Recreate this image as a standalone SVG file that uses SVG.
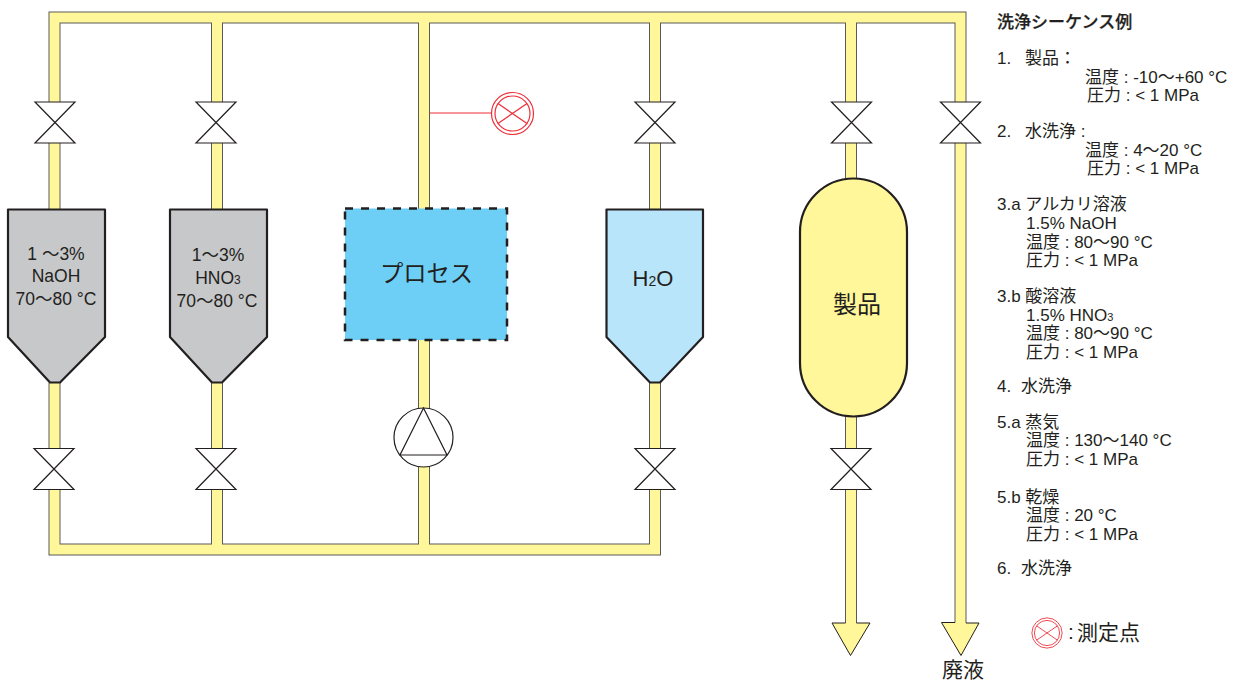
<svg xmlns="http://www.w3.org/2000/svg" width="1237" height="682" viewBox="0 0 1237 682">
<style>
text{font-family:"Liberation Sans","Noto Sans CJK JP",sans-serif;fill:#231f20}
.l{font-size:17px}
.t{font-size:17.500px;text-anchor:middle}
.po{fill:none;stroke:#5a5a58;stroke-width:12;stroke-linejoin:miter}
.pi{fill:none;stroke:#fff799;stroke-width:10;stroke-linejoin:miter}
.v{fill:#fff;stroke:#231f20;stroke-width:1.2;stroke-linejoin:miter}
.tank{stroke:#231f20;stroke-width:2.2;stroke-linejoin:round}
.g{fill:#fff;stroke:#ed2e38;stroke-width:1.2}
.ga{fill:#fff799;stroke:#231f20;stroke-width:1}
</style>
<defs>
<g id="valve"><rect x="-8" y="-20" width="16" height="40" fill="#fff"/><path class="v" d="M-20 -20.500H20L-20 20.500H20Z"/></g>
<g id="gauge"><circle class="g" r="21"/><circle class="g" r="17.500"/><path class="g" d="M-14.500 -10L14.500 10M14.500 -10L-14.500 10"/></g>
</defs>
<g id="connectors">
<path class="po" d="M54.500 209V17.500H960.500V623.500M217 209V17.500M424 209V17.500M655 209V17.500M851 180V17.500M851 415V623.500M54.500 383V549.500H655V383M217 383V549.500M424 340V549.500"/>
<path class="pi" d="M54.500 209V17.500H960.500V625M217 209V17.500M424 209V17.500M655 209V17.500M851 180V17.500M851 415V625M54.500 383V549.500H655V383M217 383V549.500M424 340V549.500"/>
<path d="M430 113H492" fill="none" stroke="#ed2e38" stroke-width="1.200"/>
<path class="ga" d="M845.500 623H832L850.500 655.500L870 623H856.500"/>
<path class="ga" d="M955 622.500H941.500L961 655.500L979 623H966"/>
</g>
<g id="valve-naoh-top"><use href="#valve" x="55" y="122.500"/></g>
<g id="valve-hno3-top"><use href="#valve" x="216" y="122.500"/></g>
<g id="valve-h2o-top"><use href="#valve" x="655" y="122.500"/></g>
<g id="valve-product-top"><use href="#valve" x="851.500" y="122.500"/></g>
<g id="valve-waste"><use href="#valve" x="960.500" y="122.500"/></g>
<g id="valve-naoh-bottom"><use href="#valve" x="54" y="469"/></g>
<g id="valve-hno3-bottom"><use href="#valve" x="216" y="469"/></g>
<g id="valve-h2o-bottom"><use href="#valve" x="655" y="469"/></g>
<g id="valve-product-bottom"><use href="#valve" x="851" y="469"/></g>
<g id="tank-naoh">
<path class="tank" fill="#c7c8ca" d="M8 209.500H105V337L60 382.500H50L8 337Z"/>
<text class="t" x="56" y="260">1 ～3%</text><text class="t" x="56" y="282">NaOH</text><text class="t" x="56" y="305">70～80 °C</text>
</g>
<g id="tank-hno3">
<path class="tank" fill="#c7c8ca" d="M170 209.500H267V337L222 382.500H212L170 337Z"/>
<text class="t" x="218" y="261">1～3%</text><text class="t" x="218" y="284">HNO<tspan font-size="12">3</tspan></text><text class="t" x="217" y="307">70～80 °C</text>
</g>
<g id="process">
<rect x="345" y="208.500" width="162" height="131.500" fill="#6dcff6" stroke="#231f20" stroke-width="2.500" stroke-dasharray="8 8"/>
<text x="426.500" y="282" font-size="23.300" text-anchor="middle">プロセス</text>
</g>
<g id="tank-h2o">
<path class="tank" fill="#b9e5fb" d="M606.500 209.500H703V337L660 382.500H650L606.500 337Z"/>
<text x="653" y="286" font-size="22" text-anchor="middle">H<tspan font-size="14">2</tspan>O</text>
</g>
<g id="product">
<rect x="800" y="178.500" width="107" height="238" rx="53.500" ry="53.500" fill="#fff799" stroke="#231f20" stroke-width="2.200"/>
<text x="857" y="313" font-size="24" text-anchor="middle">製品</text>
</g>
<g id="pump">
<circle cx="423.500" cy="437.500" r="29.500" fill="#fff" stroke="#231f20" stroke-width="1.200"/>
<path d="M423.500 408L447 455H400Z" fill="#fff" stroke="#231f20" stroke-width="1.200"/>
</g>
<g id="measure-point"><use href="#gauge" x="512.500" y="113.500"/></g>
<g id="legend-symbol"><use href="#gauge" transform="translate(1047 633) scale(.72)"/></g>
<g id="labels">
<text x="1068" y="639" font-size="21">:</text><text x="1077" y="640" font-size="21">測定点</text>
<text x="942" y="677" font-size="21">廃液</text>
</g>
<g id="sequence">
<text class="l" x="997" y="28" font-weight="500" stroke="#231f20" stroke-width=".25">洗浄シーケンス例</text>
<text class="l" x="997" y="64">1.</text><text class="l" x="1025" y="64">製品：</text>
<text class="l" x="1085" y="83">温度 : -10～+60 °C</text>
<text class="l" x="1087" y="101">圧力 : &lt; 1 MPa</text>
<text class="l" x="997" y="137">2.</text><text class="l" x="1025" y="137">水洗浄 :</text>
<text class="l" x="1085" y="156">温度 : 4～20 °C</text>
<text class="l" x="1087" y="174">圧力 : &lt; 1 MPa</text>
<text class="l" x="997" y="210">3.a アルカリ溶液</text>
<text class="l" x="1026" y="229">1.5% NaOH</text>
<text class="l" x="1026" y="248">温度 : 80～90 °C</text>
<text class="l" x="1026" y="266">圧力 : &lt; 1 MPa</text>
<text class="l" x="997" y="302">3.b 酸溶液</text>
<text class="l" x="1026" y="321">1.5% HNO<tspan font-size="11">3</tspan></text>
<text class="l" x="1026" y="339">温度 : 80～90 °C</text>
<text class="l" x="1026" y="358">圧力 : &lt; 1 MPa</text>
<text class="l" x="997" y="392">4.</text><text class="l" x="1021" y="392">水洗浄</text>
<text class="l" x="997" y="428">5.a 蒸気</text>
<text class="l" x="1026" y="446">温度 : 130～140 °C</text>
<text class="l" x="1026" y="465">圧力 : &lt; 1 MPa</text>
<text class="l" x="997" y="503">5.b 乾燥</text>
<text class="l" x="1026" y="521">温度 : 20 °C</text>
<text class="l" x="1026" y="540">圧力 : &lt; 1 MPa</text>
<text class="l" x="997" y="574">6.</text><text class="l" x="1021" y="574">水洗浄</text>
</g>
</svg>
